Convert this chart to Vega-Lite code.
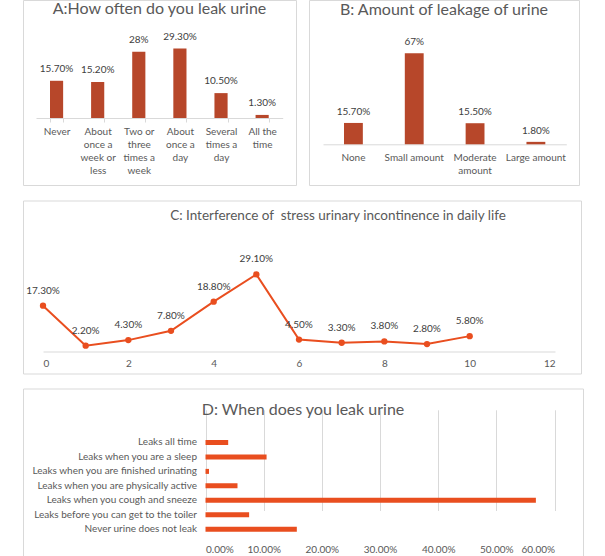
{
  "$schema": "https://vega.github.io/schema/vega-lite/v6.json",
  "padding": {"left": 22, "top": -1, "right": 0, "bottom": 0},
  "spacing": 13.5,
  "config": {
    "font": "Lato",
    "view": {"stroke": "#D9D9D9", "strokeWidth": 1},
    "axis": {"labelColor": "#595959", "labelFont": "Lato", "labelFontSize": 10, "domainColor": "#D9D9D9", "tickColor": "#D9D9D9", "gridColor": "#D9D9D9", "title": null},
    "title": {"color": "#595959", "fontWeight": "normal", "frame": "group", "anchor": "middle", "baseline": "alphabetic"},
    "text": {"font": "Lato", "fontSize": 10, "color": "#404040"}
  },
  "vconcat": [
    {
      "hconcat": [
        {
          "width": 273,
          "height": 185,
          "title": {"text": "A:How often do you leak urine", "offset": -16.5, "fontSize": 16},
          "data": {"values": [
            {"freq": "Never", "pct": 15.7, "label": "15.70%"},
            {"freq": "About once a week or less", "pct": 15.2, "label": "15.20%"},
            {"freq": "Two or three times a week", "pct": 28, "label": "28%"},
            {"freq": "About once a day", "pct": 29.3, "label": "29.30%"},
            {"freq": "Several times a day", "pct": 10.5, "label": "10.50%"},
            {"freq": "All the time", "pct": 1.3, "label": "1.30%"}
          ]},
          "encoding": {
            "x": {
              "field": "freq", "type": "nominal", "sort": null,
              "scale": {"range": [13, 259.7], "paddingInner": 0.68, "paddingOuter": 0.34},
              "axis": {
                "orient": "bottom", "offset": -67, "labelAngle": 0, "tickBand": "extent", "tickSize": 4,
                "labelPadding": 4, "labelLineHeight": 13.3, "labelBaseline": "top",
                "labelExpr": "datum.label == 'About once a week or less' ? ['About', 'once a', 'week or', 'less'] : datum.label == 'Two or three times a week' ? ['Two or', 'three', 'times a', 'week'] : datum.label == 'About once a day' ? ['About', 'once a', 'day'] : datum.label == 'Several times a day' ? ['Several', 'times a', 'day'] : datum.label == 'All the time' ? ['All the', 'time'] : datum.label"
              }
            },
            "y": {"field": "pct", "type": "quantitative", "scale": {"domain": [0, 30], "range": [118, 46.9]}, "axis": null}
          },
          "layer": [
            {"mark": {"type": "bar", "color": "#B7472A"}},
            {"mark": {"type": "text", "baseline": "middle", "dy": -12}, "encoding": {"text": {"field": "label"}}}
          ]
        },
        {
          "width": 270,
          "height": 185,
          "title": {"text": "B: Amount of leakage of urine", "offset": -18, "fontSize": 16},
          "data": {"values": [
            {"amount": "None", "pct": 15.7, "label": "15.70%"},
            {"amount": "Small amount", "pct": 67, "label": "67%"},
            {"amount": "Moderate amount", "pct": 15.5, "label": "15.50%"},
            {"amount": "Large amount", "pct": 1.8, "label": "1.80%"}
          ]},
          "encoding": {
            "x": {
              "field": "amount", "type": "nominal", "sort": null,
              "scale": {"range": [14, 257.3], "paddingInner": 0.69, "paddingOuter": 0.345},
              "axis": {
                "orient": "bottom", "offset": -40.7, "labelAngle": 0, "ticks": false,
                "labelPadding": 8, "labelLineHeight": 13.3, "labelBaseline": "top",
                "labelExpr": "datum.label == 'Moderate amount' ? ['Moderate', 'amount'] : datum.label"
              }
            },
            "y": {"field": "pct", "type": "quantitative", "scale": {"domain": [0, 70], "range": [144.3, 49.1]}, "axis": null}
          },
          "layer": [
            {"mark": {"type": "bar", "color": "#B7472A"}},
            {"mark": {"type": "text", "baseline": "middle", "dy": -11}, "encoding": {"text": {"field": "label"}}}
          ]
        }
      ],
      "spacing": 11
    },
    {
      "spacing": 13,
      "vconcat": [
        {
          "width": 558,
          "height": 173,
          "title": {"text": "C: Interference of \u00a0stress urinary incontinence in daily life", "offset": -22, "fontSize": 13.5, "dx": 36},
          "data": {"values": [
            {"score": 0, "share": 0.173},
            {"score": 1, "share": 0.022},
            {"score": 2, "share": 0.043},
            {"score": 3, "share": 0.078},
            {"score": 4, "share": 0.188},
            {"score": 5, "share": 0.291},
            {"score": 6, "share": 0.045},
            {"score": 7, "share": 0.033},
            {"score": 8, "share": 0.038},
            {"score": 9, "share": 0.028},
            {"score": 10, "share": 0.058}
          ]},
          "encoding": {
            "x": {
              "field": "score", "type": "quantitative",
              "scale": {"domain": [0, 12], "range": [20, 532]},
              "axis": {"orient": "bottom", "offset": -22, "values": [0, 2, 4, 6, 8, 10, 12], "grid": false, "ticks": false, "labelPadding": 7}
            },
            "y": {"field": "share", "type": "quantitative", "scale": {"domain": [0, 0.3], "range": [151, 71.5]}, "axis": null}
          },
          "layer": [
            {"mark": {"type": "line", "color": "#E94E1F", "strokeWidth": 2, "point": {"filled": true, "size": 40, "color": "#E94E1F"}}},
            {"mark": {"type": "text", "baseline": "middle", "dy": -15}, "encoding": {"text": {"field": "share", "format": ".2%"}}}
          ]
        },
        {
          "width": 560,
          "height": 169,
          "title": {"text": "D: When does you leak urine", "offset": -29, "fontSize": 16},
          "data": {"values": [
            {"when": "Leaks all time", "share": 0.039},
            {"when": "Leaks when you are a sleep", "share": 0.105},
            {"when": "Leaks when you are finished urinating", "share": 0.006},
            {"when": "Leaks when you are physically active", "share": 0.055},
            {"when": "Leaks when you cough and sneeze", "share": 0.568},
            {"when": "Leaks before you can get to the toiler", "share": 0.075},
            {"when": "Never urine does not leak", "share": 0.157}
          ]},
          "mark": {"type": "bar", "color": "#E94E1F"},
          "encoding": {
            "y": {
              "field": "when", "type": "nominal", "sort": null,
              "scale": {"range": [47, 147.7], "paddingInner": 0.654, "paddingOuter": 0.31},
              "axis": {"orient": "left", "offset": -182.5, "ticks": false, "domain": false, "labelPadding": 9, "labelLimit": 300}
            },
            "x": {
              "field": "share", "type": "quantitative",
              "scale": {"domain": [0, 0.6], "range": [182.5, 531.5]},
              "axis": {"orient": "bottom", "offset": -21.3, "values": [0, 0.1, 0.2, 0.3, 0.4, 0.5, 0.6], "format": ".2%", "grid": true, "domain": false, "ticks": false, "labelPadding": 8}
            }
          }
        }
      ]
    }
  ]
}
